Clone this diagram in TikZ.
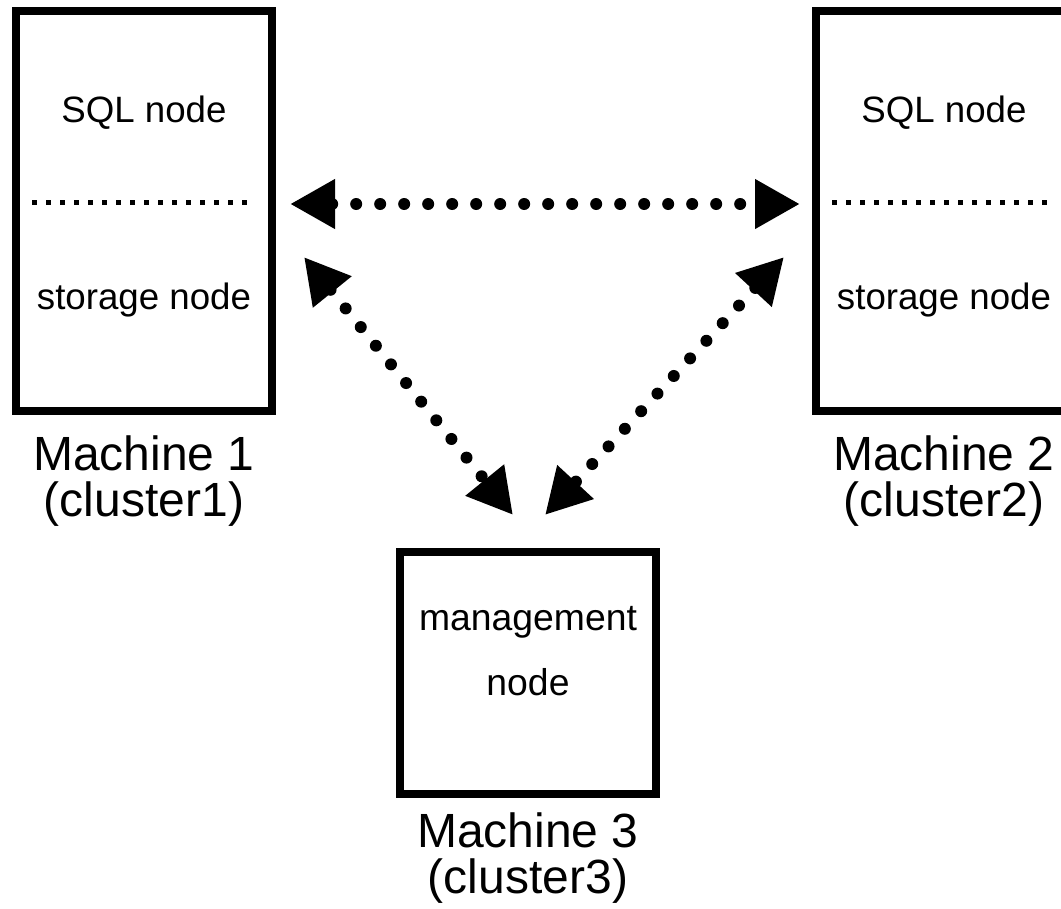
\documentclass[tikz,border=0pt]{standalone}
\usepackage{fontspec}
\setmainfont{Liberation Sans}
\usetikzlibrary{arrows.meta}

\begin{document}
\begin{tikzpicture}[x=0.75pt,y=-0.75pt,
  box/.style={draw,line width=6pt,minimum width=192pt,inner sep=0pt},
  parttext/.style={anchor=base,inner sep=0pt,font=\fontsize{27.5}{33}\selectfont},
  mlabel/.style={align=center,inner sep=0pt,font=\fontsize{36}{34.5}\selectfont},
  divider/.style={line width=3.75pt,dash pattern=on 3.75pt off 6.75pt},
  link/.style={line width=9pt,line cap=round,dash pattern=on 0pt off 18pt,
    >={Triangle[length=33.75pt,width=35pt]},<->}]

\useasboundingbox (0,0) rectangle (1061,908);

% machines
\node[box,minimum height=300pt] (m1) at (144,211) {};
\node[box,minimum height=300pt] (m2) at (944,211) {};
\node[box,minimum height=181.5pt] (m3) at (528,673) {};

% what runs on them
\node[parttext] (sql1) at (144,122) {SQL node};
\node[parttext] (sto1) at (144,309) {storage node};
\node[parttext] (sql2) at (944,122) {SQL node};
\node[parttext] (sto2) at (944,309) {storage node};
\node[parttext,font=\fontsize{28}{33}\selectfont] (mgm) at (528,630) {management};
\node[parttext,font=\fontsize{28}{33}\selectfont] (mgn) at (528,695) {node};

\draw[divider] ([shift={(20,-9)}]m1.west) -- ([shift={(-20,-9)}]m1.east);
\draw[divider] ([shift={(20,-9)}]m2.west) -- ([shift={(-20,-9)}]m2.east);

% names
\node[mlabel] (l1) at (144,481) {Machine 1\\(cluster1)};
\node[mlabel] (l2) at (944,481) {Machine 2\\(cluster2)};
\node[mlabel] (l3) at (528,858) {Machine 3\\(cluster3)};

% links
\draw[link] ([shift={(14,-7)}]m1.east) -- ([shift={(-12,-7)}]m2.west);
\draw[link] ([shift={(28,46)}]m1.east) -- ([shift={(-15,-33)}]m3.north);
\draw[link] ([shift={(-28,46)}]m2.west) -- ([shift={(17,-33)}]m3.north);
\end{tikzpicture}
\end{document}
